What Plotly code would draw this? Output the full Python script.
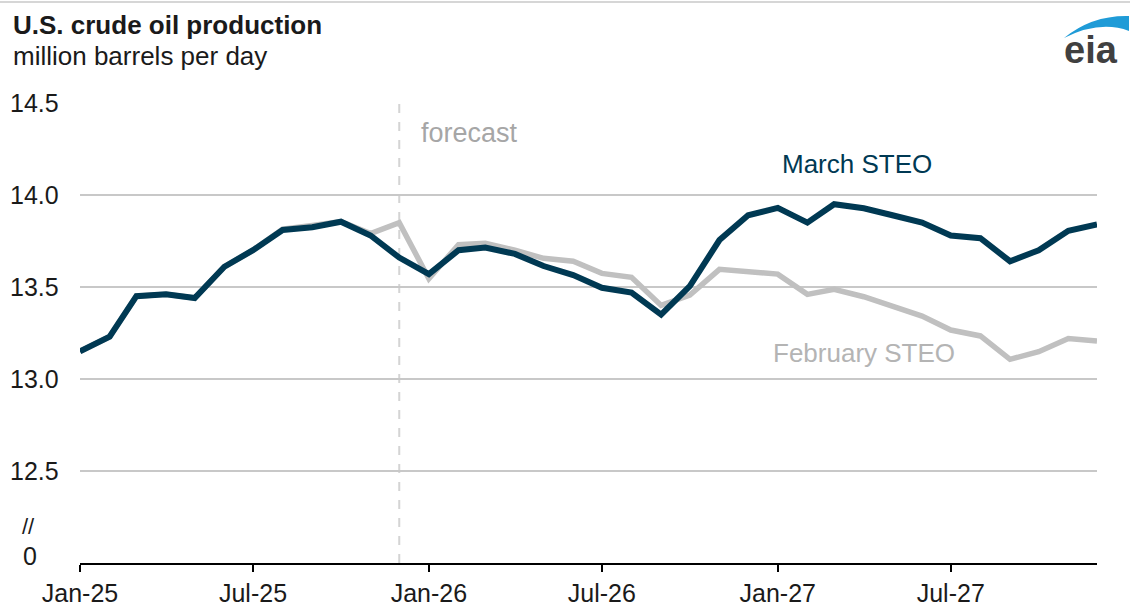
import pandas as pd
import plotly.graph_objects as go

months = pd.date_range("2025-01-01", "2027-12-01", freq="MS")

march_steo = [13.15, 13.23, 13.45, 13.46, 13.44, 13.61, 13.70, 13.81, 13.825, 13.855, 13.78, 13.66,
              13.57, 13.70, 13.714, 13.68, 13.614, 13.565, 13.496, 13.47, 13.35, 13.505, 13.755, 13.89,
              13.93, 13.85, 13.95, 13.928, 13.89, 13.85, 13.78, 13.765, 13.64, 13.70, 13.806, 13.84]

february_steo = [13.15, 13.23, 13.45, 13.46, 13.44, 13.61, 13.70, 13.815, 13.835, 13.855, 13.79, 13.85,
                 13.545, 13.73, 13.737, 13.70, 13.656, 13.64, 13.574, 13.553, 13.40, 13.456, 13.596, 13.583,
                 13.57, 13.46, 13.487, 13.447, 13.393, 13.342, 13.266, 13.234, 13.107, 13.148, 13.22, 13.207]

x_tick_dates = ["2025-01-01", "2025-07-01", "2026-01-01", "2026-07-01", "2027-01-01", "2027-07-01"]
x_tick_labels = ["Jan-25", "Jul-25", "Jan-26", "Jul-26", "Jan-27", "Jul-27"]

y_tick_vals = [12.5, 13.0, 13.5, 14.0, 14.5]
y_tick_labels = ["12.5", "13.0", "13.5", "14.0", "14.5"]
y_break_val = 12.0
y_break_label = "0"

forecast_start = "2025-12-01"

DARK = "#003953"
GRAY = "#c0c0c0"
TXT = "#1a1a1a"
FONT = "Liberation Sans, Arial, sans-serif"

fig = go.Figure()
fig.add_trace(go.Scatter(x=months, y=february_steo, mode="lines",
                         line=dict(color=GRAY, width=5.5), name="February STEO",
                         hoverinfo="x+y"))
fig.add_trace(go.Scatter(x=months, y=march_steo, mode="lines",
                         line=dict(color=DARK, width=6), name="March STEO",
                         hoverinfo="x+y"))

L, R, T, B = 80, 33, 103, 43
W, H = 1130, 606
pw, ph = W - L - R, H - T - B


def px_x(px):
    return (px - L) / pw


def px_y(py):
    return (H - B - py) / ph


# forecast dashed line
fig.add_shape(type="line", xref="x", yref="paper", x0=forecast_start, x1=forecast_start,
              y0=0, y1=1, line=dict(color="#d4d4d4", width=2, dash="dash"), layer="below")

# top border
fig.add_shape(type="line", xref="paper", yref="paper", x0=px_x(0), x1=px_x(W),
              y0=px_y(2), y1=px_y(2), line=dict(color="#c8c8c8", width=1.5))


# EIA logo swoosh
def P(px, py):
    return f"{px_x(px)},{px_y(py)}"


swoosh = (f"M {P(1064,38)} Q {P(1092,15)} {P(1129,16)} L {P(1129,31)} "
          f"Q {P(1100,20)} {P(1064,38)} Z")
fig.add_shape(type="path", xref="paper", yref="paper", path=swoosh,
              fillcolor="#1f9bd7", line=dict(color="#1f9bd7", width=0))

ann = []
ann.append(dict(text="<b>U.S. crude oil production</b>", x=px_x(11), y=px_y(25),
                xref="paper", yref="paper", xanchor="left", yanchor="middle",
                showarrow=False, font=dict(family=FONT, size=26, color=TXT)))
ann.append(dict(text="million barrels per day", x=px_x(11), y=px_y(56),
                xref="paper", yref="paper", xanchor="left", yanchor="middle",
                showarrow=False, font=dict(family=FONT, size=26, color=TXT)))
ann.append(dict(text="<b>eia</b>", x=px_x(1091), y=px_y(50),
                xref="paper", yref="paper", xanchor="center", yanchor="middle",
                showarrow=False, font=dict(family=FONT, size=38, color="#404040")))

for v, t in zip(y_tick_vals, y_tick_labels):
    ann.append(dict(text=t, x=px_x(61), y=v, xref="paper", yref="y",
                    xanchor="right", yanchor="middle", showarrow=False,
                    font=dict(family=FONT, size=25, color=TXT)))
ann.append(dict(text=y_break_label, x=px_x(30), y=y_break_val + 0.04, xref="paper", yref="y",
                xanchor="center", yanchor="middle", showarrow=False,
                font=dict(family=FONT, size=25, color=TXT)))
ann.append(dict(text="//", x=px_x(28), y=y_break_val + 0.2, xref="paper", yref="y",
                xanchor="center", yanchor="middle", showarrow=False,
                font=dict(family=FONT, size=22, color=TXT)))

ann.append(dict(text="March STEO", x=px_x(857), y=14.17, xref="paper", yref="y",
                xanchor="center", yanchor="middle", showarrow=False,
                font=dict(family=FONT, size=26, color=DARK)))
ann.append(dict(text="February STEO", x=px_x(864), y=13.14, xref="paper", yref="y",
                xanchor="center", yanchor="middle", showarrow=False,
                font=dict(family=FONT, size=26, color="#b4b4b4")))
ann.append(dict(text="forecast", x=px_x(419), y=14.335, xref="paper", yref="y",
                xanchor="left", yanchor="middle", showarrow=False,
                font=dict(family=FONT, size=27, color="#a6a6a6")))

fig.update_layout(
    width=W, height=H,
    margin=dict(l=L, r=R, t=T, b=B, autoexpand=False),
    paper_bgcolor="white", plot_bgcolor="white",
    showlegend=False,
    annotations=ann,
    font=dict(family=FONT, size=25, color=TXT),
    xaxis=dict(type="date", range=["2025-01-01", "2027-12-01"],
               tickvals=x_tick_dates, ticktext=x_tick_labels,
               ticks="outside", ticklen=7, tickwidth=2, tickcolor="black",
               showline=True, linecolor="black", linewidth=2,
               showgrid=False, zeroline=False, automargin=False,
               tickfont=dict(family=FONT, size=25, color=TXT)),
    yaxis=dict(range=[12.0, 14.5], tickvals=y_tick_vals, showticklabels=False,
               showgrid=True, gridcolor="#c8c8c8", gridwidth=2,
               zeroline=False, showline=False, ticks="", automargin=False),
)

fig.write_html("out.html", config={"displayModeBar": False},
               post_script="document.body.style.margin='0';document.body.style.overflow='hidden';")
